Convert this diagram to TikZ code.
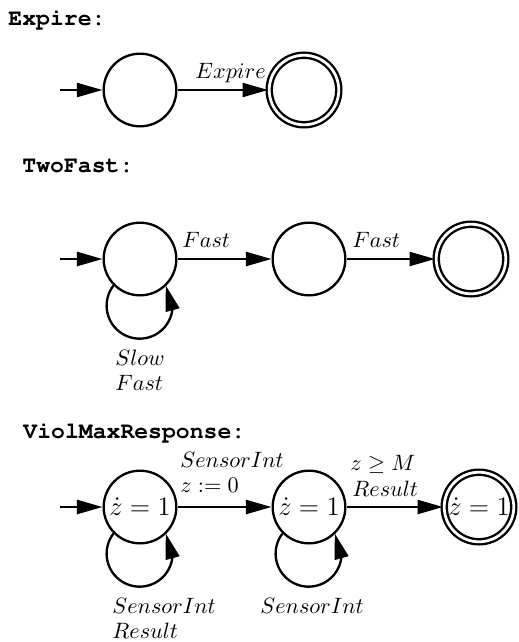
\documentclass[tikz,border=0pt]{standalone}
\usepackage[T1,TU]{fontenc}
\usepackage{fontspec}
\newcommand\codefont{\fontencoding{T1}\fontfamily{pcr}\fontseries{b}\selectfont}
\usetikzlibrary{arrows.meta,bending}
\begin{document}
\begin{tikzpicture}[x=0.45pt,y=-0.45pt,
  state/.style={circle,draw,line width=1.05pt,minimum size=32.7pt,inner sep=0pt,font=\large},
  final/.style={state,double,double distance=1.25pt,minimum size=31.3pt},
  title/.style={font=\codefont\fontsize{10.4}{12}\selectfont,anchor=base west,inner sep=0pt},
  lbl/.style={anchor=base west,inner sep=0pt},
  trans/.style={-{Triangle[length=11.5pt,width=6.3pt]},line width=1.05pt}]
\useasboundingbox (0,0) rectangle (518,642);

% ---- Expire ----
\node[title] (tE) at (8,25) {Expire:};
\node[state] (e1) at (140,90) {};
\node[final] (e2) at (304,90) {};
\coordinate (e0) at (60,90);
\draw[trans] (e0) -- (e1);
\draw[trans] (e1) -- (e2);
\node[lbl] (lE) at (195,78) {$Expire$};

% ---- TwoFast ----
\node[title] (tT) at (22,172) {TwoFast:};
\node[state] (t1) at (140,259) {};
\node[state] (t2) at (309,259) {};
\node[final] (t3) at (471,259) {};
\coordinate (t0) at (60,259);
\draw[trans] (t0) -- (t1);
\draw[trans] (t1) -- (t2);
\draw[trans] (t2) -- (t3);
\draw[trans] (t1.-135) arc[start angle=217.6,end angle=-37.6,radius=33];
\node[lbl] (lT1) at (182,247) {$Fast$};
\node[lbl] (lT2) at (352,247) {$Fast$};
\node[lbl] (lT3) at (115,365) {$Slow$};
\node[lbl] (lT4) at (115,390) {$Fast$};

% ---- ViolMaxResponse ----
\node[title] (tV) at (23,438) {ViolMaxResponse:};
\node[state] (v1) at (140,507) {$\dot z = 1$};
\node[state] (v2) at (309,507) {$\dot z = 1$};
\node[final] (v3) at (479,507) {$\dot z = 1$};
\coordinate (v0) at (60,507);
\draw[trans] (v0) -- (v1);
\draw[trans] (v1) -- (v2);
\draw[trans] (v2) -- (v3);
\draw[trans] (v1.-135) arc[start angle=217.6,end angle=-37.6,radius=33];
\draw[trans] (v2.-135) arc[start angle=217.6,end angle=-37.6,radius=33];
\node[lbl] (lV1) at (180,467) {$SensorInt$};
\node[lbl] (lV2) at (180,492) {$z := 0$};
\node[lbl] (lV3) at (350,470) {$z \geq M$};
\node[lbl] (lV4) at (352,496) {$Result$};
\node[lbl] (lV5) at (112,613) {$SensorInt$};
\node[lbl] (lV6) at (112,638) {$Result$};
\node[lbl] (lV7) at (260,613) {$SensorInt$};
\end{tikzpicture}
\end{document}
